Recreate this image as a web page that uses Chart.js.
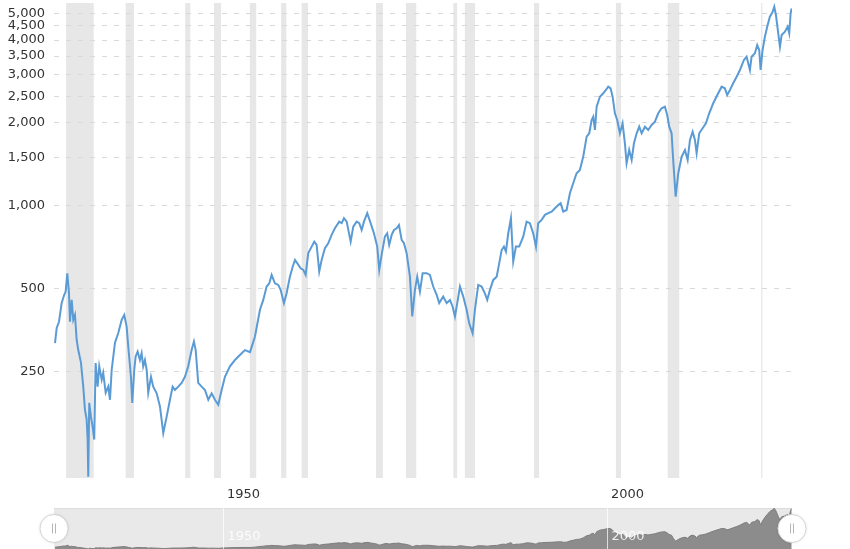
<!DOCTYPE html>
<html>
<head>
<meta charset="utf-8">
<script src="https://cdn.jsdelivr.net/npm/chart.js@4.4.1/dist/chart.umd.min.js"></script>
<style>
  body { margin: 0; background: #fff; }
  #main { position: absolute; left: 0; top: 0; width: 850px; height: 505px; }
  #nav { position: absolute; left: 0; top: 505px; width: 850px; height: 44px; }
</style>
</head>
<body>
<div id="main"><canvas id="grafico"></canvas></div>
<div id="nav"><canvas id="navegador"></canvas></div>
<script>
// - Dados (S&P 500, ajustado pela inflacao)

const anos = [
  1928.13, 1928.35, 1928.65, 1929.00, 1929.33, 1929.52, 1929.73, 1929.95, 1930.08, 1930.30,
  1930.51, 1930.73, 1930.95, 1931.16, 1931.51, 1931.81, 1932.03, 1932.25, 1932.38, 1932.46,
  1932.59, 1932.81, 1933.03, 1933.24, 1933.42, 1933.68, 1933.89, 1934.21, 1934.41, 1934.73,
  1935.07, 1935.29, 1935.51, 1935.94, 1936.37, 1936.81, 1937.15, 1937.46, 1937.67, 1938.02,
  1938.19, 1938.45, 1938.63, 1938.89, 1939.19, 1939.41, 1939.62, 1939.84, 1940.07, 1940.27,
  1940.63, 1940.92, 1941.37, 1941.80, 1942.23, 1942.67, 1943.10, 1943.45, 1943.75, 1944.18,
  1944.62, 1945.05, 1945.48, 1945.92, 1946.22, 1946.45, 1946.78, 1947.23, 1947.66, 1948.09,
  1948.53, 1948.96, 1949.39, 1949.83, 1950.26, 1950.91, 1951.56, 1952.21, 1952.86, 1953.52,
  1954.17, 1954.82, 1955.25, 1955.69, 1956.03, 1956.34, 1956.77, 1957.20, 1957.51, 1957.94,
  1958.29, 1958.72, 1959.08, 1959.38, 1959.67, 1960.12, 1960.46, 1960.77, 1961.11, 1961.55,
  1961.89, 1962.20, 1962.54, 1962.85, 1963.28, 1963.71, 1964.15, 1964.58, 1965.14, 1965.46,
  1965.76, 1966.11, 1966.63, 1966.97, 1967.41, 1967.75, 1968.06, 1968.36, 1968.79, 1969.23,
  1969.66, 1970.09, 1970.35, 1970.66, 1971.09, 1971.39, 1971.65, 1971.97, 1972.27, 1972.62,
  1972.92, 1973.27, 1973.57, 1973.92, 1974.35, 1974.65, 1975.00, 1975.30, 1975.65, 1976.00,
  1976.52, 1976.95, 1977.38, 1977.83, 1978.16, 1978.68, 1979.13, 1979.56, 1979.91, 1980.21,
  1980.51, 1980.86, 1981.29, 1981.73, 1982.07, 1982.51, 1982.81, 1983.24, 1983.68, 1984.11,
  1984.41, 1984.77, 1985.20, 1985.64, 1985.98, 1986.29, 1986.59, 1986.85, 1987.15, 1987.50,
  1987.80, 1988.15, 1988.58, 1989.10, 1989.54, 1989.97, 1990.40, 1990.76, 1991.05, 1991.50,
  1991.93, 1992.36, 1992.80, 1993.23, 1993.66, 1993.97, 1994.31, 1994.75, 1995.18, 1995.61,
  1996.05, 1996.48, 1996.91, 1997.36, 1997.70, 1998.01, 1998.22, 1998.44, 1998.66, 1999.09,
  1999.52, 1999.87, 2000.17, 2000.48, 2000.74, 2001.04, 2001.34, 2001.69, 2002.04, 2002.34,
  2002.56, 2002.90, 2003.22, 2003.52, 2003.87, 2004.21, 2004.52, 2004.95, 2005.38, 2005.82,
  2006.25, 2006.68, 2007.12, 2007.55, 2007.85, 2008.11, 2008.42, 2008.63, 2008.95, 2009.29,
  2009.73, 2010.16, 2010.51, 2010.81, 2011.16, 2011.46, 2011.68, 2012.02, 2012.46, 2012.89,
  2013.32, 2013.84, 2014.49, 2014.94, 2015.36, 2015.66, 2016.02, 2016.44, 2016.89, 2017.32,
  2017.84, 2018.19, 2018.62, 2018.84, 2019.27, 2019.57, 2019.83, 2020.01, 2020.27, 2020.57,
  2020.87, 2021.22, 2021.58, 2021.79, 2022.01, 2022.31, 2022.53, 2022.75, 2023.18, 2023.53,
  2023.74, 2023.92, 2024.05
]

const valores = [
  318, 361, 380, 445, 476, 489, 570, 484, 380, 456,
  386, 402, 327, 300, 270, 221, 182, 168, 142, 104,
  193, 172, 158, 142, 269, 221, 262, 234, 248, 210,
  221, 198, 254, 319, 346, 386, 402, 365, 309, 240,
  193, 254, 284, 296, 276, 292, 262, 276, 254, 210,
  240, 221, 209, 187, 150, 172, 198, 221, 215, 221,
  228, 240, 262, 300, 322, 300, 228, 221, 215, 198,
  209, 198, 190, 215, 240, 262, 276, 288, 300, 295,
  336, 420, 456, 510, 524, 562, 524, 517, 496, 444,
  482, 554, 602, 637, 620, 594, 586, 562, 674, 712,
  742, 722, 578, 637, 702, 732, 785, 830, 877, 866,
  903, 877, 742, 841, 877, 866, 818, 877, 941, 866,
  796, 712, 586, 664, 774, 796, 722, 785, 818, 830,
  853, 753, 732, 674, 554, 397, 496, 554, 489, 570,
  570, 562, 510, 476, 444, 469, 444, 456, 431, 397,
  444, 510, 469, 420, 375, 345, 420, 517, 510, 482,
  456, 496, 539, 554, 620, 692, 712, 683, 796, 903,
  628, 712, 712, 774, 877, 866, 796, 712, 866, 890,
  928, 941, 954, 981, 1008, 1023, 954, 967, 1112, 1209,
  1314, 1351, 1509, 1784, 1835, 2051, 2108, 1887, 2291, 2491,
  2563, 2635, 2709, 2672, 2491, 2169, 2051, 1835, 1995, 1688,
  1428, 1596, 1468, 1688, 1835, 1939, 1835, 1939, 1887, 1967,
  2022, 2169, 2261, 2291, 2138, 1939, 1835, 1468, 1081, 1314,
  1509, 1596, 1468, 1735, 1860, 1735, 1553, 1835, 1913, 1995,
  2169, 2358, 2563, 2709, 2672, 2527, 2635, 2786, 2944, 3114,
  3385, 3480, 3114, 3480, 3580, 3837, 3680, 3114, 3680, 4112,
  4470, 4860, 5066, 5282, 4929, 4230, 3782, 4171, 4287, 4470,
  4230, 5000, 5212
]

// - Recessoes (inicio e fim, em anos)

const recessaoInicio = [1929.58, 1937.33, 1945.08, 1948.83, 1953.50, 1957.58, 1960.25, 1969.92, 1973.83, 1980.00, 1981.50, 1990.50, 2001.17, 2007.92, 2020.08]
const recessaoFim    = [1933.17, 1938.42, 1945.75, 1949.75, 1954.33, 1958.25, 1961.08, 1970.83, 1975.17, 1980.50, 1982.83, 1991.17, 2001.83, 2009.42, 2020.25]

// - Ticks

const ticksX = [1950, 2000]
const ticksY = [250, 500, 1000, 1500, 2000, 2500, 3000, 3500, 4000, 4500, 5000]

const pontos = anos.map((a, i) => ({ x: a, y: valores[i] }))

const fonte = { family: 'DejaVu Sans', size: 13 }

// - Grafico principal

const recessoes = {
  id: 'recessoes',
  beforeDraw(chart) {
    const { ctx, chartArea, scales: { x } } = chart
    ctx.save()
    ctx.fillStyle = '#e7e7e7'
    recessaoInicio.forEach((ini, i) => {
      const x0 = x.getPixelForValue(ini)
      const x1 = x.getPixelForValue(recessaoFim[i])
      ctx.fillRect(x0, chartArea.top, Math.max(x1 - x0, 1), chartArea.bottom - chartArea.top)
    })
    ctx.restore()
  }
}

const config = {
  type: 'line',
  data: {
    datasets: [{
      label: 'S&P 500',
      data: pontos,
      borderColor: '#5b9bd5',
      borderWidth: 2,
      pointRadius: 0,
      tension: 0
    }]
  },
  options: {
    maintainAspectRatio: false,
    animation: false,
    layout: { padding: { top: 3, right: 58, left: 0, bottom: 0 } },
    plugins: {
      legend: { display: false },
      tooltip: { enabled: false }
    },
    scales: {
      x: {
        type: 'linear',
        min: 1928,
        max: 2024.1,
        grid: { display: false, drawTicks: false },
        border: { display: false },
        afterBuildTicks: s => { s.ticks = ticksX.map(v => ({ value: v })) },
        afterFit: s => { s.height = 27; s.paddingLeft = 0; s.paddingRight = 0 },
        ticks: {
          align: 'start',
          labelOffset: 4,
          padding: 9,
          color: '#333',
          font: fonte,
          callback: v => String(v)
        }
      },
      y: {
        type: 'logarithmic',
        min: 103,
        max: 5450,
        grid: { color: '#d9d9d9', drawTicks: false },
        border: { display: false, dash: [5, 7] },
        afterBuildTicks: s => { s.ticks = ticksY.map(v => ({ value: v })) },
        afterFit: s => { s.width = 54; s.paddingTop = 0; s.paddingBottom = 0 },
        ticks: {
          padding: 9,
          color: '#333',
          font: fonte,
          callback: v => v.toLocaleString('en-US')
        }
      }
    }
  },
  plugins: [recessoes]
}

const grafico = new Chart(document.getElementById('grafico'), config)

// - Navegador

const navegadorExtras = {
  id: 'navegadorExtras',
  beforeDraw(chart) {
    const { ctx, chartArea } = chart
    ctx.save()
    ctx.fillStyle = '#e9e9e9'
    ctx.fillRect(chartArea.left, chartArea.top, chartArea.right - chartArea.left, chartArea.bottom - chartArea.top)
    ctx.fillStyle = '#dcdcdc'
    ctx.fillRect(chartArea.left, chartArea.top, chartArea.right - chartArea.left, 1)
    ctx.restore()
  },
  afterDatasetsDraw(chart) {
    const { ctx, chartArea, scales: { x } } = chart
    ctx.save()
    ticksX.forEach(t => {
      const px = Math.round(x.getPixelForValue(t)) + 0.5
      ctx.strokeStyle = 'rgba(255,255,255,0.7)'
      ctx.lineWidth = 1
      ctx.beginPath()
      ctx.moveTo(px, chartArea.top)
      ctx.lineTo(px, chartArea.bottom)
      ctx.stroke()
      ctx.fillStyle = 'rgba(255,255,255,0.85)'
      ctx.font = '13px "DejaVu Sans"'
      ctx.textAlign = 'left'
      ctx.textBaseline = 'middle'
      ctx.fillText(String(t), px + 4, chartArea.top + 29)
    })
    const meio = (chartArea.top + chartArea.bottom) / 2
    ;[chartArea.left, chartArea.right].forEach(cx => {
      ctx.shadowColor = 'rgba(0,0,0,0.15)'
      ctx.shadowBlur = 3
      ctx.fillStyle = '#fff'
      ctx.beginPath()
      ctx.arc(cx, meio, 14, 0, Math.PI * 2)
      ctx.fill()
      ctx.shadowBlur = 0
      ctx.strokeStyle = '#d5d5d5'
      ctx.lineWidth = 1
      ctx.stroke()
      ctx.strokeStyle = '#b5b5b5'
      ctx.beginPath()
      ctx.moveTo(cx - 1.5, meio - 5)
      ctx.lineTo(cx - 1.5, meio + 5)
      ctx.moveTo(cx + 1.5, meio - 5)
      ctx.lineTo(cx + 1.5, meio + 5)
      ctx.stroke()
    })
    ctx.restore()
  }
}

const navegador = new Chart(document.getElementById('navegador'), {
  type: 'line',
  data: {
    datasets: [{
      data: pontos,
      borderColor: '#7d7d7d',
      borderWidth: 1,
      backgroundColor: '#8c8c8c',
      fill: 'start',
      pointRadius: 0,
      tension: 0
    }]
  },
  options: {
    maintainAspectRatio: false,
    animation: false,
    layout: { padding: { top: 3, right: 58, left: 54, bottom: 0 } },
    plugins: {
      legend: { display: false },
      tooltip: { enabled: false }
    },
    scales: {
      x: { type: 'linear', min: 1928, max: 2024.1, display: false },
      y: { min: 100, max: 5300, display: false }
    }
  },
  plugins: [navegadorExtras]
})
</script>
</body>
</html>
